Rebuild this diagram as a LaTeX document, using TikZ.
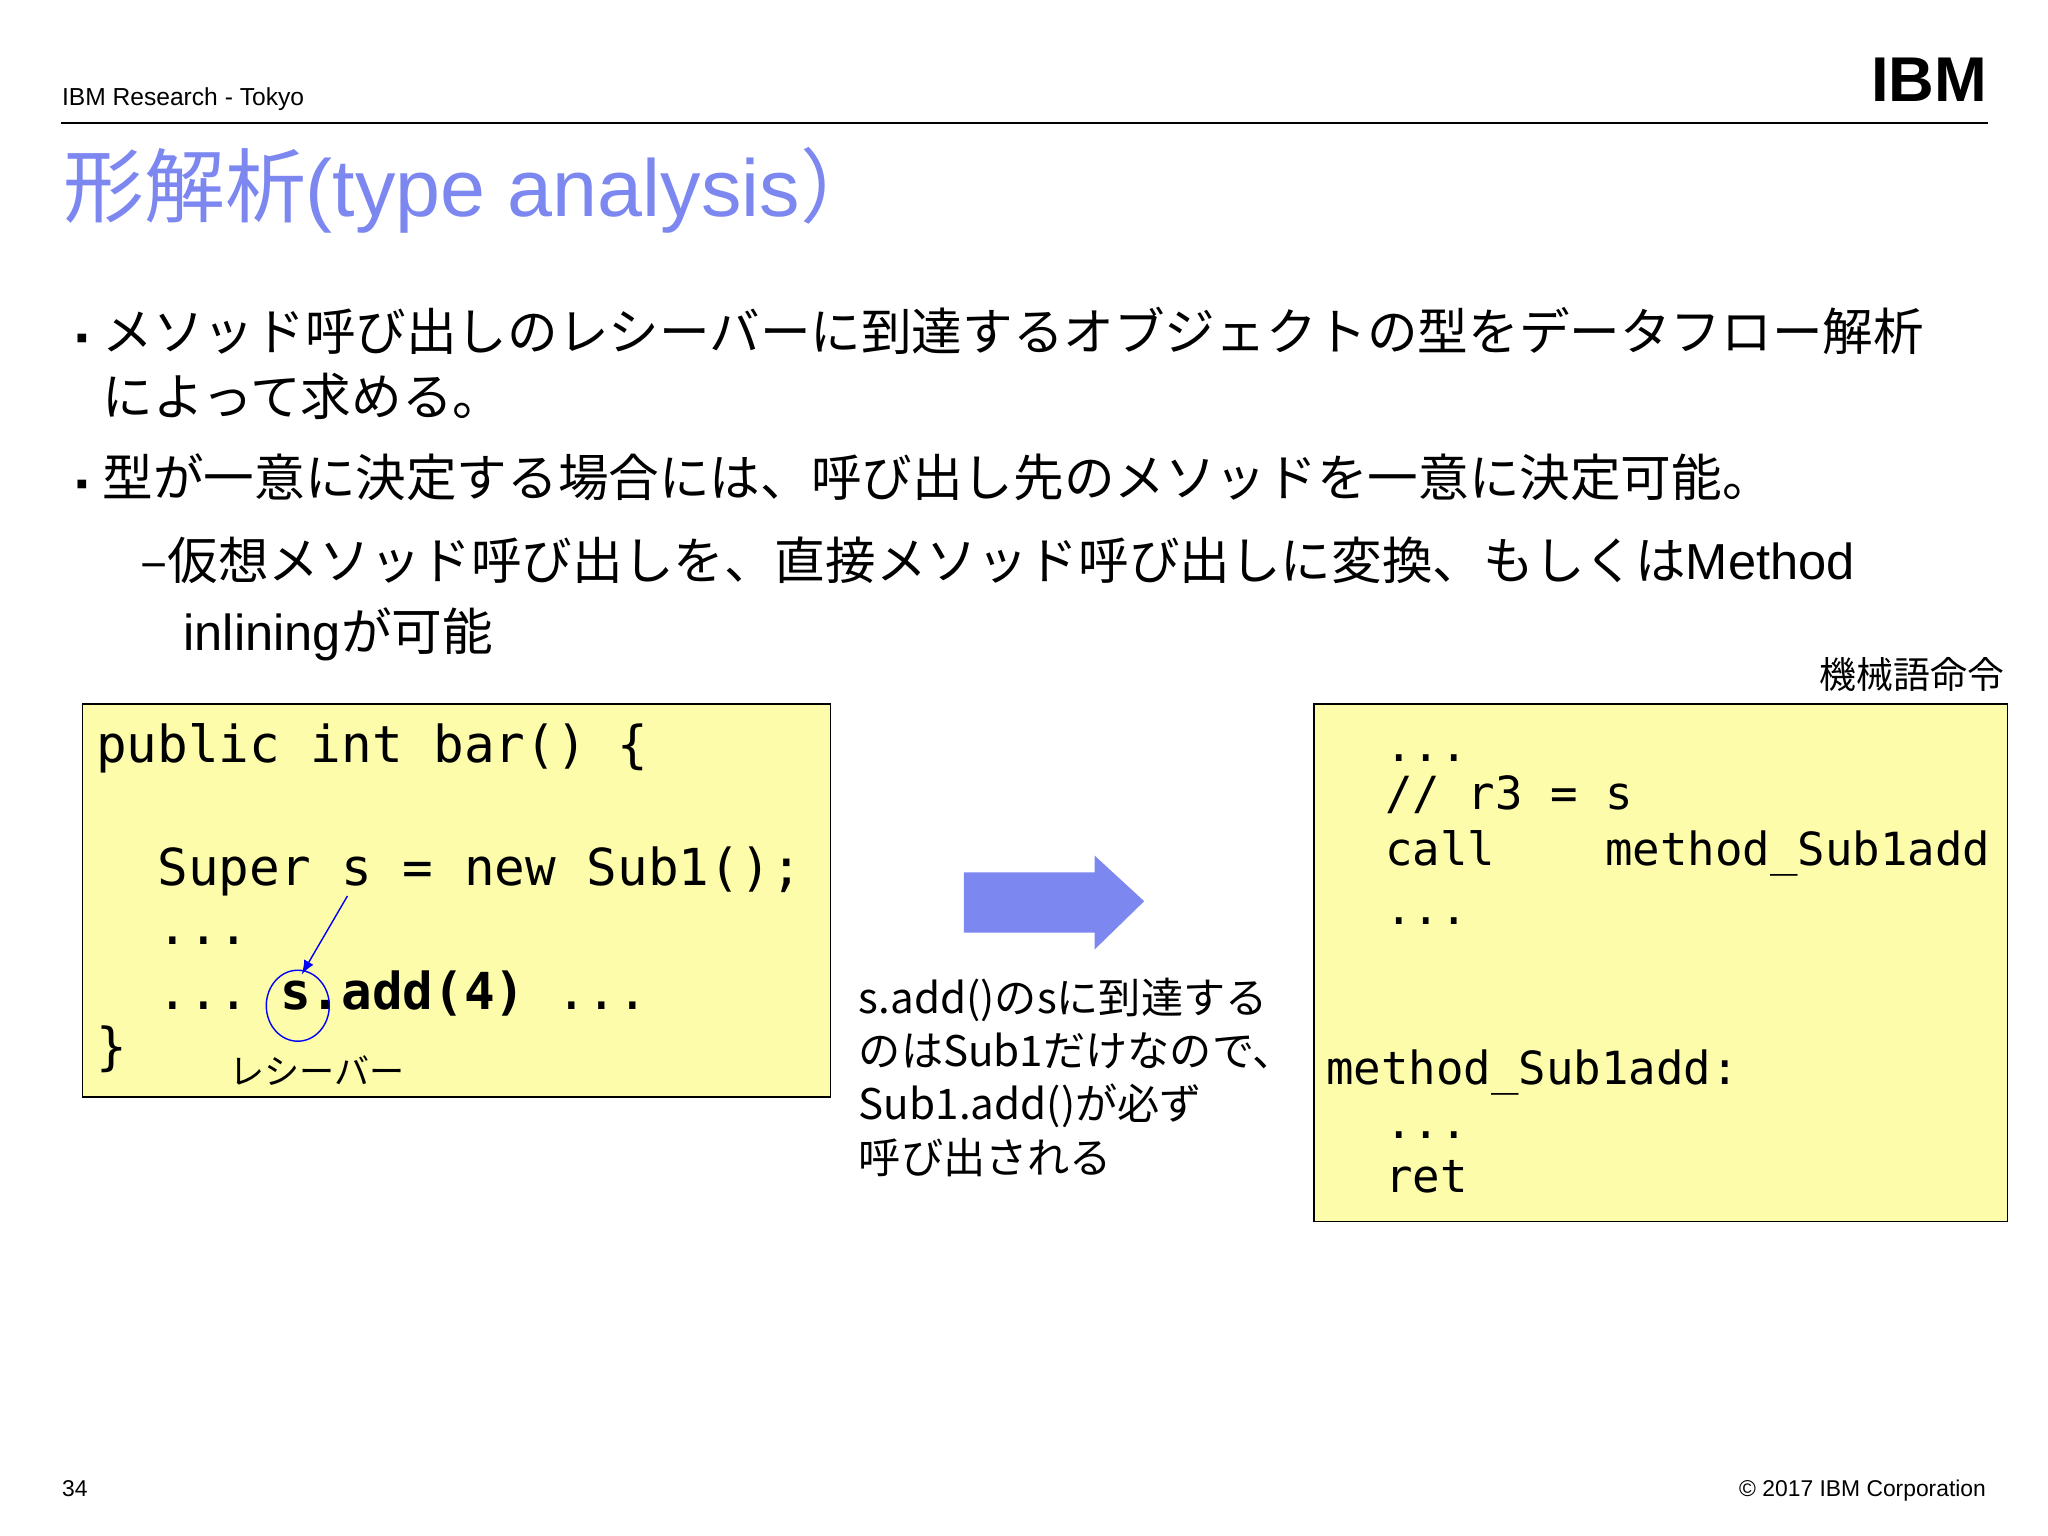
\documentclass[tikz,border=0pt]{standalone}
\usepackage{fontspec}
\usetikzlibrary{shapes.geometric}
\setmainfont{Liberation Sans}
\setmonofont{DejaVu Sans Mono}
\newfontfamily\jp{Noto Sans CJK JP}
\definecolor{ttl}{RGB}{125,135,240}
\definecolor{bx}{RGB}{252,252,170}
\begin{document}
\begin{tikzpicture}[x=0.013061cm,y=-0.013061cm,
  jt/.style={anchor=base west,inner sep=0,font=\jp\fontsize{14.4}{16}\selectfont},
  cl/.style={anchor=base west,inner sep=0,font=\ttfamily\fontsize{14.5}{16}\selectfont},
  cr/.style={anchor=base west,inner sep=0,font=\ttfamily\fontsize{13}{15}\selectfont}]
\useasboundingbox (0,0) rectangle (1568,1176);
\fill[white] (0,0) rectangle (1568,1176);
\node[anchor=base west,inner sep=0,font=\fontsize{7}{8}\selectfont] (hd) at (47,81) {IBM Research - Tokyo};
\node[anchor=base east,inner sep=0,font=\bfseries\fontsize{18}{18}\selectfont] (ibm) at (1522,78) {IBM};
\draw[line width=0.6pt] (47,94) -- (1522,94);
\node[anchor=base west,inner sep=0,text=ttl,font=\fontsize{23}{26}\selectfont] (title) at (48,166) {{\jp 形解析}(type analysis{\jp ）}};
\node[jt] (b1) at (50,268) {\small ▪};
\node[jt] (t1) at (78,268) {メソッド呼び出しのレシーバーに到達するオブジェクトの型をデータフロー解析};
\node[jt] (t1b) at (78,318) {によって求める。};
\node[jt] (b2) at (50,380) {\small ▪};
\node[jt] (t2) at (78,380) {型が一意に決定する場合には、呼び出し先のメソッドを一意に決定可能。};
\node[jt] (t3) at (107,444) {–仮想メソッド呼び出しを、直接メソッド呼び出しに変換、もしくは\fontspec{Liberation Sans}Method};
\node[jt] (t3b) at (140,498) {{\fontspec{Liberation Sans}inlining}が可能};
\node[anchor=base east,inner sep=0,font=\jp\fontsize{10.5}{11}\selectfont] (mc) at (1535,527) {機械語命令};
% left box
\draw[fill=bx] (63,539) rectangle (636,840);
\node[cl] (l1) at (73,584) {public int bar() \{};
\node[cl] (l2) at (120,678) {Super s = new Sub1();};
\node[cl] (l3) at (120,723) {...};
\node[cl] (l4) at (120,773) {... \textbf{s.add(4)} ...};
\node[cl] (l5) at (73,815) {\}};
\node[anchor=base west,inner sep=0,font=\jp\fontsize{10}{11}\selectfont] (rc) at (175,830) {レシーバー};
\node[draw=blue,ellipse,minimum width=0.63cm,minimum height=0.71cm,inner sep=0] (circ) at (228,770) {};
\coordinate (sfrom) at (266,686);
\draw[blue,-latex] (sfrom) -- (231,746);
% arrow
\fill[ttl] (738,668) -- (838,668) -- (838,655) -- (876,690) -- (838,727) -- (838,714) -- (738,714) -- cycle;
\node[anchor=north west,inner sep=0,align=left,font=\jp\fontsize{12}{15.2}\selectfont] (mid) at (657,748) {s.add()のsに到達する\\のはSub1だけなので、\\Sub1.add()が必ず\\呼び出される};
% right box
\draw[fill=bx] (1006,539) rectangle (1537,935);
\node[cr] (r1) at (1060,583) {...};
\node[cr] (r2) at (1060,620) {// r3 = s};
\node[cr] (r3) at (1060,663) {call\ \ \ \ method\_Sub1add};
\node[cr] (r4) at (1060,708) {...};
\node[cr] (r5) at (1015,830) {method\_Sub1add:};
\node[cr] (r6) at (1060,872) {...};
\node[cr] (r7) at (1060,913) {ret};
\node[anchor=base west,inner sep=0,font=\fontsize{6.5}{8}\selectfont] (pg) at (47,1146) {34};
\node[anchor=base east,inner sep=0,font=\fontsize{6.5}{8}\selectfont] (cp) at (1521,1146) {© 2017 IBM Corporation};
\end{tikzpicture}
\end{document}
